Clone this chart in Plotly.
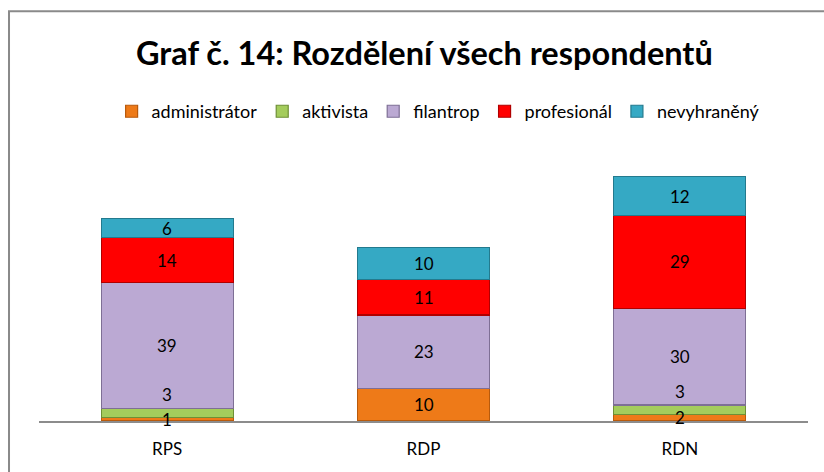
import plotly.graph_objects as go
import numpy as np

categories = ["RPS", "RDP", "RDN"]
series_names = ["administrátor", "aktivista", "filantrop", "profesionál", "nevyhraněný"]
administrator = [1, 10, 2]
aktivista = [3, 0, 3]
filantrop = [39, 23, 30]
profesional = [14, 11, 29]
nevyhraneny = [6, 10, 12]
title_text = "Graf č. 14: Rozdělení všech respondentů"

colors = ["#EE7A18", "#A4CC5C", "#BBA9D3", "#FF0000", "#35A9C4"]
edge = ["#B85A0C", "#6E8F36", "#7E6F95", "#B00000", "#237A8E"]
FONT = "Lato"

series = [administrator, aktivista, filantrop, profesional, nevyhraneny]

fig = go.Figure()
for name, vals, c, e in zip(series_names, series, colors, edge):
    fig.add_trace(go.Bar(
        x=categories, y=vals, name=name,
        marker=dict(color=c, line=dict(color=e, width=1.2)),
        width=0.515,
        hoverinfo="skip",
    ))

# data labels, centred on each segment (small ones nudged like Excel does)
annotations = []
base = np.zeros(len(categories))
for si, vals in enumerate(series):
    for ci, v in enumerate(vals):
        if v > 0:
            ys = 0
            if v < 5 and si > 0:
                ys = 18
            annotations.append(dict(
                x=categories[ci], y=base[ci] + v / 2, text=str(v),
                showarrow=False, yshift=ys,
                font=dict(family=FONT, size=17, color="black"),
                xref="x", yref="y"))
    base += np.array(vals)

fig.update_layout(
    barmode="stack",
    width=824, height=472,
    margin=dict(l=39, r=16, t=164, b=51),
    paper_bgcolor="white", plot_bgcolor="white",
    font=dict(family=FONT, size=17, color="black"),
    title=dict(text="<b>" + title_text + "</b>", x=0.515, xanchor="center",
               y=1 - 54 / 472, yanchor="middle",
               font=dict(family=FONT, size=32.5, color="black")),
    legend=dict(orientation="h", x=0.519, xanchor="center", y=1.204, yanchor="middle",
                traceorder="normal",
                font=dict(family=FONT, size=18, color="black"),
                itemwidth=30, tracegroupgap=0, bgcolor="rgba(0,0,0,0)"),
    showlegend=True,
    annotations=annotations,
    bargap=0.485,
    shapes=[dict(type="rect", xref="paper", yref="paper",
                 x0=-0.039, x1=1.05, y0=-0.3, y1=1.594,
                 line=dict(color="#8A8A8A", width=2), fillcolor="rgba(0,0,0,0)",
                 layer="below")],
)
fig.update_xaxes(showline=True, linecolor="#8C8C8C", linewidth=2, ticks="",
                 tickfont=dict(family=FONT, size=17, color="black"),
                 ticklabelstandoff=12, showgrid=False, zeroline=False)
fig.update_yaxes(range=[0, 80], visible=False, showgrid=False, zeroline=False)

fig.write_html("out.html", config={"displayModeBar": False},
               post_script="document.body.style.margin='0';document.body.style.padding='0';")
